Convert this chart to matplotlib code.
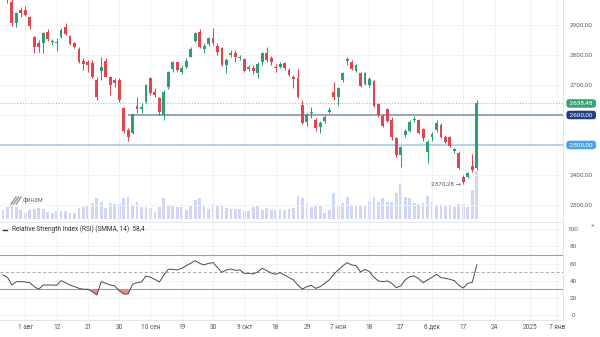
import numpy as np
import matplotlib
matplotlib.use("Agg")
import matplotlib.pyplot as plt
import matplotlib.transforms as mtransforms
from matplotlib.lines import Line2D

plt.rcParams['font.family'] = ['Roboto', 'DejaVu Sans']

# ---- data: daily bars, index 0 = 1 Aug 2024 ----
bar_index = np.arange(-5, 102)
opens = [3020, 3005, 2978, 2908, 2950, 2950, 2928, 2859, 2839, 2839,
         2878, 2843, 2841, 2859, 2892, 2864, 2839, 2821, 2780, 2778,
         2772, 2717, 2748, 2781, 2728, 2717, 2717, 2622, 2550, 2539,
         2630, 2619, 2644, 2722, 2678, 2656, 2600, 2692, 2752, 2775,
         2744, 2761, 2794, 2847, 2878, 2819, 2836, 2855, 2830, 2822,
         2767, 2800, 2808, 2789, 2786, 2752, 2756, 2741, 2775, 2808,
         2789, 2761, 2761, 2772, 2750, 2728, 2722, 2633, 2578, 2606,
         2583, 2559, 2580, 2611, 2678, 2659, 2717, 2781, 2778, 2748,
         2741, 2703, 2700, 2714, 2637, 2597, 2619, 2583, 2522, 2467,
         2533, 2548, 2583, 2583, 2552, 2478, 2526, 2550, 2567, 2528,
         2526, 2481, 2474, 2394, 2394, 2430, 2422]
highs = [3030, 3012, 2990, 2944, 2961, 2963, 2930, 2863, 2850, 2878,
         2886, 2852, 2856, 2889, 2906, 2867, 2844, 2828, 2789, 2783,
         2783, 2726, 2792, 2789, 2730, 2722, 2722, 2628, 2556, 2606,
         2659, 2641, 2703, 2728, 2689, 2661, 2683, 2747, 2780, 2778,
         2767, 2789, 2825, 2878, 2886, 2839, 2861, 2889, 2839, 2828,
         2789, 2817, 2817, 2800, 2789, 2767, 2767, 2778, 2811, 2825,
         2797, 2770, 2775, 2778, 2756, 2733, 2752, 2650, 2606, 2628,
         2589, 2580, 2600, 2628, 2711, 2694, 2744, 2794, 2783, 2770,
         2744, 2742, 2726, 2717, 2641, 2603, 2622, 2592, 2528, 2497,
         2552, 2583, 2597, 2587, 2556, 2517, 2544, 2583, 2572, 2533,
         2530, 2489, 2481, 2400, 2411, 2470, 2650]
lows = [2992, 2974, 2897, 2894, 2928, 2930, 2886, 2806, 2811, 2806,
        2848, 2833, 2814, 2856, 2866, 2833, 2822, 2772, 2750, 2744,
        2722, 2650, 2717, 2726, 2667, 2692, 2644, 2539, 2514, 2537,
        2606, 2606, 2641, 2667, 2661, 2600, 2583, 2686, 2744, 2744,
        2737, 2756, 2792, 2844, 2822, 2808, 2831, 2833, 2800, 2763,
        2741, 2794, 2778, 2783, 2744, 2748, 2737, 2722, 2767, 2778,
        2767, 2744, 2756, 2750, 2730, 2689, 2656, 2570, 2563, 2589,
        2548, 2541, 2574, 2606, 2650, 2633, 2711, 2767, 2750, 2744,
        2694, 2700, 2694, 2628, 2594, 2559, 2578, 2517, 2461, 2428,
        2526, 2544, 2578, 2537, 2514, 2441, 2514, 2544, 2522, 2506,
        2492, 2472, 2419, 2370.28, 2389, 2411, 2417]
closes = [3004, 2985, 2906, 2939, 2939, 2933, 2897, 2828, 2828, 2872,
          2852, 2846, 2843, 2883, 2869, 2837, 2828, 2778, 2770, 2767,
          2726, 2659, 2761, 2728, 2700, 2708, 2650, 2547, 2528, 2603,
          2619, 2625, 2700, 2672, 2667, 2611, 2678, 2744, 2775, 2750,
          2758, 2780, 2819, 2872, 2828, 2830, 2858, 2841, 2811, 2767,
          2783, 2806, 2794, 2794, 2748, 2761, 2747, 2770, 2806, 2783,
          2778, 2756, 2769, 2756, 2733, 2720, 2659, 2572, 2600, 2611,
          2556, 2574, 2594, 2617, 2661, 2689, 2739, 2786, 2752, 2767,
          2697, 2739, 2719, 2630, 2600, 2563, 2581, 2528, 2467, 2494,
          2548, 2578, 2587, 2541, 2522, 2511, 2537, 2572, 2528, 2511,
          2497, 2486, 2422, 2378, 2408, 2417, 2638.48]
volumes = [9.3, 12.7, 16, 12.7, 9.3,
           6, 9.3, 10, 11, 10, 7.7, 6, 8.7, 8.7, 8.7,
           6.7, 6, 11, 12.7, 13.3, 16, 21, 17.7, 11, 16,
           15.3, 15.3, 21, 22.7, 14.3, 17.7, 12, 12.7, 11, 7.7,
           12, 21, 14.3, 14.3, 12, 12, 9.3, 14.3, 19.3, 21,
           14.3, 10, 15.3, 14.3, 14.3, 11, 10, 10, 10, 8.7,
           8.7, 12, 14.3, 9.3, 11, 9.3, 9.3, 10, 9.3, 10,
           11, 23.3, 21, 16.7, 12, 14.3, 14.3, 6.7, 9.3, 26,
           14.3, 16.7, 22, 14.3, 13.3, 13.3, 14.3, 18.7, 22.7, 17.7,
           21, 17.7, 17.7, 26, 35, 22, 21, 16, 15.3, 16,
           23.3, 17.7, 14.3, 15.3, 13.3, 14.3, 12, 15.3, 15.3, 12.7,
           29.3, 48]
rsi = [46.7, 44.0, 35.0, 38.9, 38.9, 38.5, 37.7, 33.1, 30.0, 35.0,
       35.0, 35.0, 34.6, 40.1, 37.7, 35.0, 33.1, 31.1, 30.0, 30.0,
       27.2, 23.3, 38.9, 37.0, 35.0, 33.9, 28.4, 24.5, 24.5, 35.8,
       37.7, 38.5, 45.5, 44.0, 41.6, 38.5, 46.7, 53.3, 53.3, 52.5,
       54.5, 57.6, 60.3, 63.4, 60.3, 58.4, 60.3, 61.1, 55.3, 49.8,
       52.5, 53.7, 52.1, 52.5, 48.6, 48.6, 47.9, 50.2, 54.5, 51.8,
       49.0, 47.5, 49.4, 46.7, 43.6, 40.9, 34.6, 30.3, 33.1, 34.6,
       31.1, 33.1, 37.0, 40.9, 47.5, 52.5, 57.2, 61.1, 58.4, 57.6,
       50.2, 53.3, 50.6, 44.0, 39.7, 38.9, 39.7, 37.0, 31.9, 33.9,
       40.9, 44.7, 45.5, 42.4, 37.7, 40.9, 44.0, 47.5, 43.6, 42.8,
       41.6, 40.1, 34.6, 31.5, 37.0, 38.1, 58.4]

tick_pos = [0, 7, 14, 21, 28, 35, 42, 49, 56, 63, 70, 77, 84, 91, 98, 105, 113, 119]
tick_labels = ["1 авг", "12", "21", "30", "10 сен", "19", "30", "9 окт", "18", "29",
               "7 ноя", "18", "27", "6 дек", "17", "24", "2025", "7 янв"]
price_ticks = [2300, 2400, 2500, 2600, 2700, 2800, 2900]
rsi_ticks = [0, 20, 40, 60, 80, 100]

level_resist = 2600
level_resist_from = 23
level_support = 2500
rsi_upper, rsi_mid, rsi_lower = 70, 50, 30
rsi_last = 58.4

opens, highs, lows, closes = map(np.asarray, (opens, highs, lows, closes))
volumes = np.asarray(volumes)
rsi = np.asarray(rsi)
last_close = closes[-1]
low_i = int(np.argmin(lows))


def ru(v):
    return f"{v:.2f}".replace(".", ",")


# ---- style ----
UP, DOWN = "#2f9e72", "#e2454f"
GRID = "#f0f2f5"
TXT = "#616161"
FS = 4.7

W, H = 600, 337
fig = plt.figure(figsize=(W / 100, H / 100), dpi=100)
fig.patch.set_facecolor("white")


def rect(x0, y0, x1, y1):
    return [x0 / W, 1 - y1 / H, (x1 - x0) / W, (y1 - y0) / H]


XMIN, XMAX = -5.66, 120.3

ax = fig.add_axes(rect(0, 0, 563, 222))
axv = fig.add_axes(rect(0, 0, 563, 222), sharex=ax)
axr = fig.add_axes(rect(0, 222, 563, 320), sharex=ax)
axv.set_zorder(1)
ax.set_zorder(2)
ax.patch.set_visible(False)

# volume histogram
axv.bar(bar_index, volumes, width=0.62, color="#d0d6f6", linewidth=0)
axv.set_ylim(-2.7, 219.3)
axv.axis("off")

# candles
ax.set_xlim(XMIN, XMAX)
ax.set_ylim(2243.3, 2983.3)
cols = np.where(closes >= opens, UP, DOWN)
ax.vlines(bar_index, lows, highs, colors=cols, linewidth=0.75, zorder=3)
body_lo = np.minimum(opens, closes)
body_h = np.maximum(np.abs(closes - opens), 2.0)
ax.bar(bar_index, body_h, bottom=body_lo, width=0.64, color=cols, linewidth=0, zorder=4)

# levels
ax.axhline(last_close, color="#86d0aa", linewidth=0.8, linestyle=(0, (1, 1.5)), zorder=2)
ax.hlines(level_resist, level_resist_from, XMAX, color="#8e9db3", linewidth=1.3, zorder=2)
ax.axhline(level_support, color="#a9d3ea", linewidth=1.3, zorder=2)

# grid, ticks
for a in (ax, axr):
    a.set_xticks(tick_pos)
    a.grid(True, color=GRID, linewidth=0.7)
    a.set_axisbelow(True)
    a.tick_params(length=0)
    for s in ("top", "left"):
        a.spines[s].set_visible(False)
    a.spines["right"].set_color("#e3e5ea")
    a.spines["right"].set_linewidth(0.7)
    a.spines["bottom"].set_color("#e3e5ea")
    a.spines["bottom"].set_linewidth(0.7)

# price scale: levels with a badge get no plain label
badge_levels = {level_support, level_resist}
ax.set_yticks(price_ticks)
ax.set_yticklabels(["" if v in badge_levels else ru(v) for v in price_ticks])
ax.tick_params(axis="y", labelleft=False, labelright=True, pad=13.3, labelsize=FS - 0.1, labelcolor=TXT)
for t in ax.get_yticklabels():
    t.set_ha("center")
ax.tick_params(axis="x", labelbottom=False)

# price badges on the scale
blend = mtransforms.blended_transform_factory(fig.transFigure, ax.transData)


def badge(value, face):
    ax.text(581.2 / W, value, " " + ru(value) + " ", transform=blend, ha="center", va="center",
            fontsize=FS - 0.1, color="white", clip_on=False, zorder=10,
            bbox=dict(boxstyle="round,pad=0.28,rounding_size=0.5", fc=face, ec="none"))


badge(level_support, "#4aa4e2")
badge(level_resist, "#23407f")
badge(last_close, "#3aa373")

# lowest low marker
ax.text(bar_index[low_i] - 0.55, lows[low_i], ru(lows[low_i]) + " →",
        ha="right", va="center", fontsize=FS - 0.1, color="#5c5c5c", zorder=6)

# broker mark
fig.text(23 / W, 1 - 200.5 / H, "финам", fontsize=FS, color="#7a7a7a", va="center", ha="left",
         zorder=20, bbox=dict(boxstyle="round,pad=0.5,rounding_size=0.8", fc="white", ec="none", alpha=0.85))
for k in range(3):
    x0 = 11 + k * 2.6
    fig.add_artist(Line2D([x0 / W, (x0 + 5) / W], [1 - 204 / H, 1 - 197 / H],
                          transform=fig.transFigure, color="#8a8a8a", linewidth=0.9, zorder=21))

# RSI panel
axr.set_ylim(-5.83, 108.5)
axr.axhline(rsi_upper, color="#9e9e9e", linewidth=0.8)
axr.axhline(rsi_lower, color="#9e9e9e", linewidth=0.8)
axr.axhline(rsi_mid, color="#a8a8a8", linewidth=0.7, linestyle=(0, (3, 2.5)))
axr.fill_between(bar_index, rsi, rsi_lower, where=rsi < rsi_lower, interpolate=True,
                 color="#f08a8a", linewidth=0, zorder=2)
axr.plot(bar_index, rsi, color="#4a4a4a", linewidth=0.7, zorder=3)
axr.set_yticks(rsi_ticks)
axr.tick_params(axis="y", labelleft=False, labelright=True, pad=7.2, labelsize=FS - 0.1, labelcolor=TXT)
for t in axr.get_yticklabels():
    t.set_ha("center")
axr.set_xticklabels(tick_labels)
axr.tick_params(axis="x", pad=6.7, labelsize=FS, labelcolor="#555555")
for t in axr.get_xticklabels():
    t.set_va("baseline")
axr.spines["top"].set_color("#e3e5ea")

# indicator caption
fig.add_artist(Line2D([3 / W, 6.5 / W], [1 - 229.5 / H, 1 - 229.5 / H], transform=fig.transFigure,
                      color="#333333", linewidth=1.0))
fig.text(12 / W, 1 - 229.5 / H, f"Relative Strength Index (RSI) (SMMA, 14)  {rsi_last:.1f}".replace(".", ","),
         fontsize=FS, color="#333333", va="center", ha="left")
fig.text(593 / W, 1 - 226 / H, "×", fontsize=FS + 0.5, color="#9a9a9a", va="center", ha="center")

fig.savefig("out.png", dpi=100, facecolor="white")
